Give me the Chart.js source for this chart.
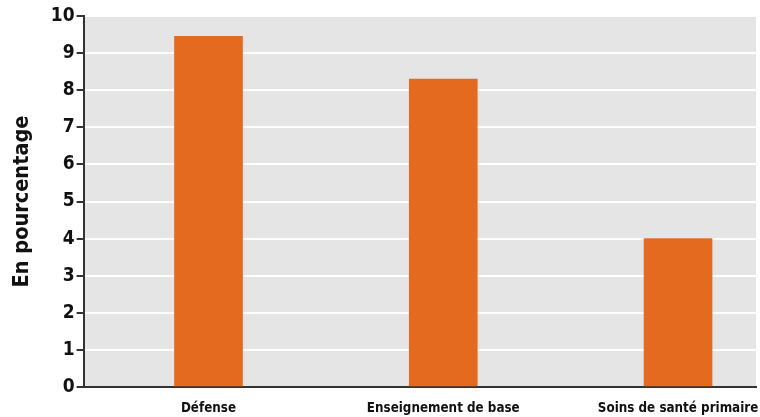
<!DOCTYPE html>
<html>
<head>
<meta charset="utf-8">
<script src="https://cdn.jsdelivr.net/npm/chart.js@4/dist/chart.umd.min.js"></script>
<style>
  html, body { margin: 0; padding: 0; background: #ffffff; }
  #wrap { width: 760px; height: 417px; }
</style>
</head>
<body>
<div id="wrap"><canvas id="c" width="760" height="417"></canvas></div>
<script>
// Part of each budget, in percent
const categories = ['Défense', 'Enseignement de base', 'Soins de santé primaire'];
const values = [9.45, 8.3, 4.0];
const yTicks = [0, 1, 2, 3, 4, 5, 6, 7, 8, 9, 10];

const FONT = '"DejaVu Sans Condensed", "Liberation Sans Narrow", sans-serif';

// Grey fill behind the plotting area
const plotBackground = {
  id: 'plotBackground',
  beforeDraw(chart) {
    const { ctx, chartArea: a } = chart;
    ctx.save();
    ctx.fillStyle = '#e5e5e5';
    ctx.fillRect(a.left, a.top, a.right - a.left, a.bottom - a.top);
    ctx.restore();
  }
};

// End labels may run into the outer margin instead of shrinking the plot
function noLabelOverhang(scale) {
  scale.paddingLeft = 0;
  scale.paddingRight = 0;
  scale.paddingTop = 0;
  scale.paddingBottom = 0;
}

new Chart(document.getElementById('c'), {
  type: 'bar',
  data: {
    datasets: [{
      data: categories.map((c, i) => ({ x: i, y: values[i] })),
      backgroundColor: '#e46a20',
      borderWidth: 0,
      barThickness: 68
    }]
  },
  options: {
    responsive: false,
    animation: false,
    layout: { autoPadding: false, padding: { top: 16, right: 4, left: 10, bottom: 2 } },
    plugins: { legend: { display: false }, tooltip: { enabled: false } },
    scales: {
      x: {
        type: 'linear',
        offset: false,
        min: -0.532,
        max: 2.332,
        afterBuildTicks(scale) { scale.ticks = categories.map((_, i) => ({ value: i })); },
        afterFit(scale) {
          noLabelOverhang(scale);
          scale.height = 28;
        },
        grid: { display: false, drawTicks: false, tickLength: 0 },
        border: { display: true, color: '#333333', width: 2 },
        ticks: {
          autoSkip: false,
          maxRotation: 0,
          padding: 14,
          color: '#111111',
          font: { family: FONT, size: 13.3, weight: 'bold' },
          callback: (v) => categories[v]
        }
      },
      y: {
        min: 0,
        max: 10,
        afterBuildTicks(scale) { scale.ticks = yTicks.map(v => ({ value: v })); },
        afterFit: noLabelOverhang,
        grid: { color: '#ffffff', lineWidth: 2, tickColor: '#333333', tickLength: 7, drawTicks: true },
        border: { display: true, color: '#333333', width: 2 },
        ticks: {
          padding: 2,
          color: '#111111',
          font: { family: FONT, size: 19, weight: 'bold' }
        },
        title: {
          display: true,
          text: 'En pourcentage',
          color: '#111111',
          padding: { top: 0, bottom: 13 },
          font: { family: FONT, size: 21.5, weight: 'bold' }
        }
      }
    }
  },
  plugins: [plotBackground]
});
</script>
</body>
</html>
